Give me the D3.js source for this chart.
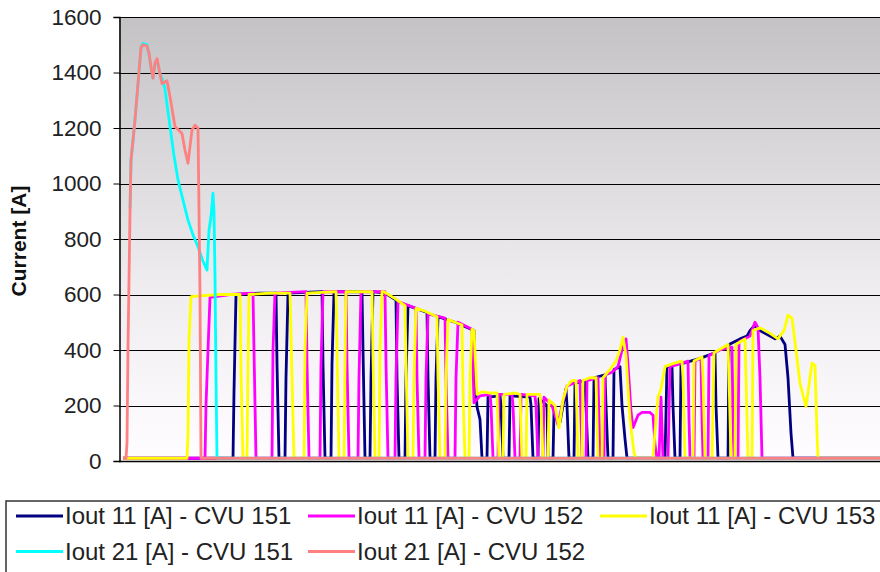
<!DOCTYPE html>
<html>
<head>
<meta charset="utf-8">
<script src="https://cdn.jsdelivr.net/npm/d3@7"></script>
<style>
  body { margin: 0; background: #fff; }
  svg { display: block; font-family: "Liberation Sans", Arial, sans-serif; }
</style>
</head>
<body>
<div id="chart"></div>
<script>
// time in s, current in A
const iout11_cvu151 = [
  [0.4, 10], [11.4, 10], [11.5, 250], [11.7, 600], [14.1, 605], [15.7, 605],
  [15.8, 350], [16.0, 10], [16.6, 10], [16.7, 300], [16.9, 605], [20.3, 610],
  [20.4, 350], [20.6, 10], [21.2, 10], [21.3, 350], [21.5, 610], [24.3, 610],
  [24.4, 400], [24.6, 10], [25.1, 10], [25.2, 300], [25.4, 610], [26.6, 605], [27.7, 580],
  [27.8, 300], [28.0, 10], [28.6, 10], [28.7, 300], [28.9, 560], [30.8, 535],
  [30.9, 300], [31.1, 10], [31.6, 10], [31.7, 300], [31.9, 520], [33.6, 500], [35.5, 470],
  [35.6, 300], [35.8, 195], [36.1, 150], [36.3, 10], [36.8, 10], [36.9, 230], [38.1, 235],
  [38.2, 200], [38.4, 10], [39.0, 10], [39.1, 235], [41.1, 230],
  [41.2, 200], [41.4, 10], [41.9, 10], [42.0, 225],
  [42.8, 200], [42.9, 10], [43.4, 10], [43.5, 180], [44.1, 140], [44.7, 260],
  [44.8, 200], [45.0, 10], [45.5, 10], [45.6, 280], [46.6, 290],
  [46.7, 200], [46.9, 10], [47.4, 10], [47.5, 300], [48.6, 310],
  [48.7, 200], [48.9, 10], [49.4, 10], [49.5, 330], [50.1, 340], [50.3, 200], [50.6, 80], [50.8, 10],
  [54.6, 10], [54.8, 340], [55.3, 340],
  [55.4, 200], [55.6, 10], [56.1, 10], [56.2, 350], [58.1, 370],
  [59.6, 390], [59.7, 200], [59.9, 10], [60.9, 10], [61.0, 420],
  [62.1, 440], [62.8, 450], [63.1, 470], [63.6, 490], [64.1, 470], [65.1, 450], [65.6, 440],
  [66.1, 450], [66.6, 420], [66.9, 300], [67.2, 100], [67.4, 10], [76.1, 10]
];

const iout11_cvu152 = [
  [0.4, 10], [8.6, 10], [8.7, 200], [8.9, 400], [9.1, 590], [11.1, 600], [13.4, 605],
  [13.5, 400], [13.7, 10], [15.3, 10], [15.4, 400], [15.6, 605], [18.7, 610],
  [18.8, 350], [19.0, 10], [20.1, 10], [20.2, 350], [20.4, 610], [22.7, 610],
  [22.8, 350], [23.0, 10], [23.9, 10], [24.0, 300], [24.2, 610], [26.6, 610],
  [26.7, 350], [26.9, 10], [27.6, 10], [27.7, 300], [27.9, 575], [29.7, 550],
  [29.8, 300], [30.0, 10], [30.6, 10], [30.7, 300], [30.9, 530], [32.6, 515],
  [32.7, 300], [32.9, 10], [33.6, 10], [33.7, 300], [33.9, 500], [35.3, 475],
  [35.5, 210], [36.1, 235], [37.1, 240],
  [37.2, 200], [37.4, 10], [37.9, 10], [38.0, 240], [39.3, 240],
  [39.4, 200], [39.6, 10], [40.1, 10], [40.2, 240], [41.6, 235],
  [41.7, 200], [41.9, 10], [42.4, 10], [42.5, 230], [43.3, 200], [43.9, 130], [44.3, 200], [44.8, 270],
  [46.1, 290], [46.2, 150], [46.3, 10], [46.7, 10], [46.8, 290],
  [47.9, 300], [48.0, 150], [48.1, 10], [48.5, 10], [48.6, 310],
  [49.3, 320], [49.9, 340], [50.3, 400], [50.7, 440], [50.9, 350], [51.2, 180], [51.4, 120],
  [51.9, 165], [52.3, 175], [53.1, 175], [53.4, 165], [53.6, 60], [53.8, 10],
  [54.0, 10], [54.2, 230], [54.4, 10], [54.9, 10], [55.1, 340], [56.1, 350],
  [56.9, 360], [57.0, 150], [57.1, 10], [57.5, 10], [57.6, 360],
  [58.2, 370], [58.3, 150], [58.4, 10], [58.9, 10], [59.0, 380], [60.1, 400],
  [61.3, 410], [61.4, 150], [61.5, 10], [61.9, 10], [62.0, 430],
  [63.1, 450], [63.6, 500], [63.9, 480], [64.1, 300], [64.3, 10], [76.1, 10]
];

const iout11_cvu153 = [
  [0.4, 10], [6.8, 10], [6.9, 100], [7.0, 436], [7.2, 592], [8.1, 595], [10.1, 600], [12.1, 600],
  [12.2, 320], [12.4, 10], [12.8, 10], [12.9, 350], [13.0, 600], [15.1, 605], [17.1, 605],
  [17.2, 450], [17.5, 10], [18.5, 10], [18.6, 400], [18.8, 605], [21.7, 610],
  [21.8, 400], [22.0, 10], [22.5, 10], [22.6, 350], [22.7, 610], [25.3, 610],
  [25.4, 380], [25.6, 10], [26.0, 10], [26.1, 400], [26.3, 610], [26.5, 610], [27.6, 585], [28.6, 560],
  [28.7, 350], [28.9, 10], [29.4, 10], [29.5, 300], [29.7, 550], [30.6, 540], [31.8, 520],
  [31.9, 300], [32.1, 10], [32.6, 10], [32.7, 300], [32.9, 510], [34.3, 490],
  [34.4, 250], [34.6, 10], [35.0, 10], [35.1, 300], [35.3, 475], [35.5, 470],
  [35.8, 240], [36.3, 250], [37.1, 245],
  [37.8, 245], [37.9, 120], [38.0, 10], [38.4, 10], [38.5, 240], [39.6, 245],
  [40.1, 240], [40.2, 120], [40.3, 10], [40.7, 10], [40.8, 240], [42.1, 240],
  [42.2, 200], [42.4, 10], [42.9, 10], [43.0, 220], [43.6, 200], [44.0, 120], [44.4, 220], [44.8, 270], [45.3, 290],
  [45.7, 290], [45.8, 150], [45.9, 10], [46.3, 10], [46.4, 290], [47.1, 300],
  [47.7, 300], [47.8, 150], [47.9, 10], [48.3, 10], [48.4, 300],
  [49.1, 330], [49.7, 360], [50.1, 400], [50.4, 446], [50.7, 380], [51.1, 150], [51.5, 30], [51.7, 10],
  [53.4, 10], [53.7, 150], [53.9, 230], [54.2, 260], [54.6, 340], [55.3, 350], [56.3, 360],
  [56.4, 300], [56.6, 10], [57.4, 10], [57.5, 360], [58.3, 375],
  [58.4, 300], [58.6, 10], [59.3, 10], [59.5, 390], [60.9, 420],
  [61.0, 300], [61.2, 10], [61.6, 10], [61.7, 420], [62.6, 440],
  [62.7, 300], [62.9, 10], [63.3, 10], [63.4, 470], [64.1, 480], [65.1, 460], [65.9, 440],
  [66.5, 470], [66.9, 526], [67.3, 515], [67.7, 400], [68.1, 280], [68.7, 196], [69.1, 300],
  [69.3, 353], [69.6, 345], [69.8, 100], [69.9, 10], [76.1, 10]
];

const iout21_cvu151 = [
  [1.1, 910], [1.2, 1085], [1.4, 1155], [1.6, 1230], [1.9, 1360], [2.2, 1490], [2.4, 1505],
  [2.8, 1500], [3.0, 1465], [3.2, 1420], [3.4, 1380], [3.6, 1430], [3.8, 1445], [4.1, 1395],
  [4.4, 1370], [4.6, 1340], [5.1, 1205], [5.5, 1100], [5.9, 1013], [6.4, 940], [6.9, 868],
  [7.4, 815], [7.9, 772], [8.4, 720], [8.8, 688], [9.0, 832], [9.2, 880], [9.4, 965],
  [9.5, 900], [9.6, 663], [9.7, 300], [9.8, 10], [76.1, 10]
];

const iout21_cvu152 = [
  [0.4, 10], [0.7, 10], [0.8, 65], [0.9, 410], [1.1, 890], [1.2, 1085], [1.4, 1155],
  [1.6, 1230], [1.9, 1360], [2.2, 1490], [2.4, 1500], [2.8, 1495], [3.0, 1470], [3.2, 1420],
  [3.4, 1380], [3.6, 1435], [3.8, 1450], [4.1, 1395], [4.3, 1360], [4.8, 1370], [5.1, 1313],
  [5.6, 1205], [6.3, 1180], [6.6, 1120], [6.9, 1073], [7.3, 1193], [7.6, 1210], [7.9, 1200],
  [8.1, 600], [8.2, 10], [76.1, 10]
];

const seriesNames = [
  'Iout 11 [A] - CVU 151', 'Iout 11 [A] - CVU 152', 'Iout 11 [A] - CVU 153',
  'Iout 21 [A] - CVU 151', 'Iout 21 [A] - CVU 152'
];
const seriesColors = ['#000080', '#ff00ff', '#ffff00', '#00ffff', '#ff8080'];
const yTicks = [0, 200, 400, 600, 800, 1000, 1200, 1400, 1600];
const timeRange = [0, 76.1];

const series = [iout11_cvu151, iout11_cvu152, iout11_cvu153, iout21_cvu151, iout21_cvu152];

const width = 880;
const height = 572;
const margin = { top: 17, right: 0, bottom: 111, left: 119 };
const plotW = width - margin.left - margin.right;
const plotH = height - margin.top - margin.bottom;

const svg = d3.select('#chart').append('svg')
  .attr('width', width)
  .attr('height', height);

const grad = svg.append('defs').append('linearGradient')
  .attr('id', 'bg')
  .attr('x1', 0).attr('y1', 0).attr('x2', 0).attr('y2', 1);
grad.append('stop').attr('offset', '0%').attr('stop-color', '#c4c2c4');
grad.append('stop').attr('offset', '60%').attr('stop-color', '#eeecee');
grad.append('stop').attr('offset', '100%').attr('stop-color', '#fffdff');

const x = d3.scaleLinear().domain(timeRange).range([0, plotW]);
const y = d3.scaleLinear().domain([0, 1600]).range([plotH, 0]);

const g = svg.append('g')
  .attr('transform', 'translate(' + margin.left + ',' + margin.top + ')');

g.append('rect')
  .attr('width', plotW)
  .attr('height', plotH)
  .attr('fill', 'url(#bg)');

// gridlines
g.append('g')
  .selectAll('line')
  .data(yTicks.filter(d => d > 0))
  .enter().append('line')
  .attr('x1', 0).attr('x2', plotW)
  .attr('y1', d => Math.round(y(d)) + 0.5)
  .attr('y2', d => Math.round(y(d)) + 0.5)
  .attr('stroke', '#000')
  .attr('stroke-width', 1);

const line = d3.line()
  .x(d => x(d[0]))
  .y(d => y(d[1]));

g.append('g')
  .selectAll('path')
  .data(series)
  .enter().append('path')
  .attr('d', line)
  .attr('fill', 'none')
  .attr('stroke', (d, i) => seriesColors[i])
  .attr('stroke-width', 2.8)
  .attr('stroke-linejoin', 'round');

// axes
const yAxis = g.append('g')
  .attr('transform', 'translate(0.5,0)')
  .call(d3.axisLeft(y).tickValues(yTicks).tickFormat(d3.format('d')).tickSize(6).tickPadding(12))
  .call(a => a.select('.domain').attr('stroke', '#000').attr('stroke-width', 1.5));
yAxis.selectAll('line').attr('stroke', '#000');
yAxis.selectAll('text')
  .attr('fill', '#222')
  .style('font-size', '22.5px')
  .style('font-family', '"Liberation Sans", Arial, sans-serif');

g.append('line')
  .attr('x1', 0).attr('x2', plotW)
  .attr('y1', plotH + 0.5).attr('y2', plotH + 0.5)
  .attr('stroke', '#000')
  .attr('stroke-width', 1.5);

svg.append('text')
  .attr('transform', 'translate(26,' + (margin.top + plotH / 2 + 2) + ') rotate(-90)')
  .attr('text-anchor', 'middle')
  .style('font-size', '21px')
  .style('font-weight', 'bold')
  .attr('fill', '#111')
  .text('Current [A]');

// legend
const legend = svg.append('g');
legend.append('rect')
  .attr('x', 6).attr('y', 501)
  .attr('width', 900).attr('height', 100)
  .attr('fill', '#fff')
  .attr('stroke', '#333')
  .attr('stroke-width', 1.5);

const item = legend.selectAll('.item')
  .data(seriesNames)
  .enter().append('g')
  .attr('class', 'item')
  .attr('transform', (d, i) => 'translate(' + (16 + (i % 3) * 292) + ',' + (516 + Math.floor(i / 3) * 35.5) + ')');

item.append('line')
  .attr('x1', 0).attr('x2', 47)
  .attr('stroke', (d, i) => seriesColors[i])
  .attr('stroke-width', 3);

item.append('text')
  .attr('x', 49)
  .attr('y', 0)
  .attr('dy', '0.35em')
  .style('font-size', '24px')
  .attr('fill', '#222')
  .text(d => d);
</script>
</body>
</html>
